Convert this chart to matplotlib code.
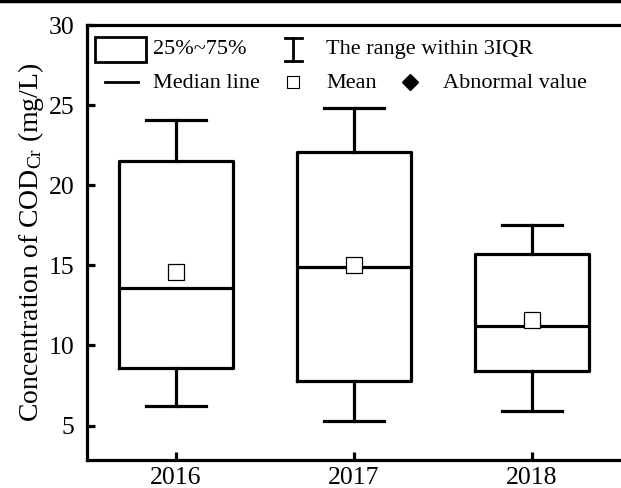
import matplotlib
matplotlib.use("Agg")
import matplotlib.pyplot as plt
from matplotlib.lines import Line2D
from matplotlib.patches import Rectangle

plt.rcParams['font.family'] = ['Liberation Serif', 'DejaVu Serif']
plt.rcParams['mathtext.fontset'] = 'custom'
plt.rcParams['mathtext.rm'] = 'Liberation Serif'
plt.rcParams['mathtext.it'] = 'Liberation Serif:italic'

# box statistics
years = ['2016', '2017', '2018']
q1 = [8.6, 7.8, 8.4]
median = [13.6, 14.9, 11.2]
q3 = [21.5, 22.1, 15.7]
whis_low = [6.2, 5.3, 5.9]
whis_high = [24.1, 24.8, 17.5]
means = [14.6, 15.0, 11.6]

stats = []
for i in range(len(years)):
    stats.append({'label': years[i], 'q1': q1[i], 'med': median[i], 'q3': q3[i],
                  'whislo': whis_low[i], 'whishi': whis_high[i],
                  'mean': means[i], 'fliers': []})

fig = plt.figure(figsize=(6.21, 4.88), dpi=100)
ax = fig.add_axes([87 / 621, 28 / 488, 534 / 621, 435 / 488])

lw = 2.3
ax.bxp(stats, positions=[1, 2, 3], widths=0.64, capwidths=0.335,
       showmeans=True, showfliers=False,
       boxprops=dict(color='black', linewidth=lw),
       medianprops=dict(color='black', linewidth=lw),
       whiskerprops=dict(color='black', linewidth=lw),
       capprops=dict(color='black', linewidth=lw),
       meanprops=dict(marker='s', markerfacecolor='white', markeredgecolor='black',
                      markersize=11, markeredgewidth=0.9))

ax.set_xlim(0.5, 3.5)
ax.set_ylim(2.85, 30)
ax.set_yticks([5, 10, 15, 20, 25, 30])
ax.set_xticks([1, 2, 3])
ax.set_xticklabels(years)
ax.tick_params(axis='both', direction='in', length=6, width=lw, labelsize=18.5)
ax.tick_params(axis='y', pad=9)
ax.tick_params(axis='x', pad=5)
for s in ['left', 'bottom', 'top']:
    ax.spines[s].set_linewidth(lw)
ax.spines['right'].set_visible(False)

ax.set_ylabel('Concentration of COD$_{\\mathrm{Cr}}$ (mg/L)', fontsize=20, labelpad=2)

# hand-made legend in the upper part of the axes
t = ax.transAxes
fs = 16
ax.add_patch(Rectangle((0.015, 0.915), 0.095, 0.057, transform=t, fill=False,
                       edgecolor='black', linewidth=2.0, clip_on=False))
ax.text(0.124, 0.944, '25%~75%', transform=t, fontsize=fs, va='center', ha='left')
ax.plot([0.386, 0.386], [0.918, 0.970], transform=t, color='black', lw=2.0)
ax.plot([0.370, 0.402], [0.970, 0.970], transform=t, color='black', lw=2.0)
ax.plot([0.370, 0.402], [0.918, 0.918], transform=t, color='black', lw=2.0)
ax.text(0.448, 0.944, 'The range within 3IQR', transform=t, fontsize=fs, va='center', ha='left')

ax.plot([0.034, 0.096], [0.868, 0.868], transform=t, color='black', lw=2.0)
ax.text(0.124, 0.866, 'Median line', transform=t, fontsize=fs, va='center', ha='left')
ax.plot([0.386], [0.868], transform=t, marker='s', markersize=8.5, markerfacecolor='white',
        markeredgecolor='black', markeredgewidth=0.8, linestyle='none')
ax.text(0.448, 0.866, 'Mean', transform=t, fontsize=fs, va='center', ha='left')
ax.plot([0.605], [0.868], transform=t, marker='D', markersize=8.5, color='black', linestyle='none')
ax.text(0.667, 0.866, 'Abnormal value', transform=t, fontsize=fs, va='center', ha='left')

# border line at the very top of the image
fig.add_artist(Line2D([0, 1], [0.997, 0.997], color='black', linewidth=2.5))

fig.savefig('out.png', dpi=100)
